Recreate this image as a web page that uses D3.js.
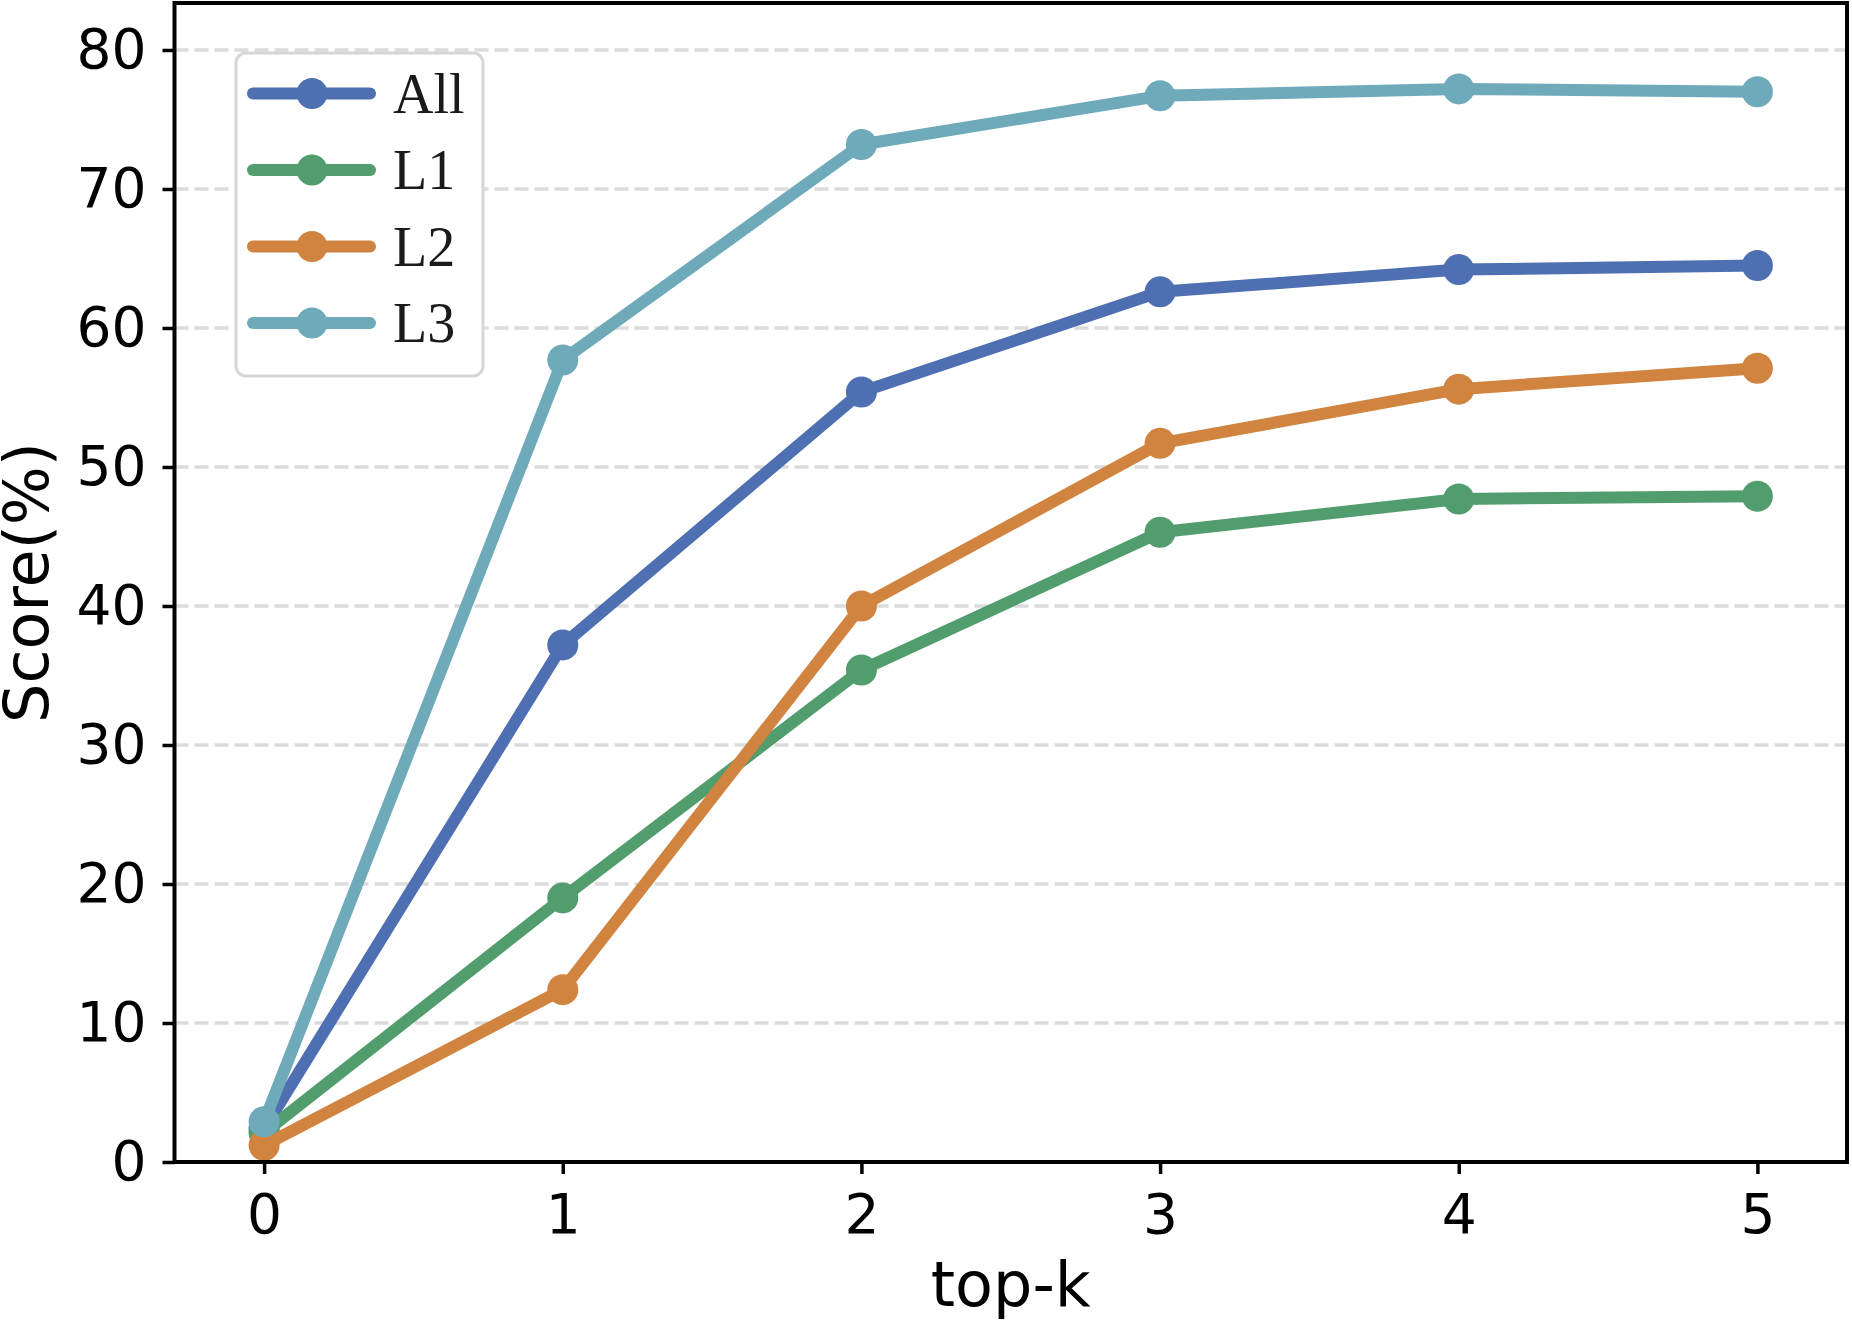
<!DOCTYPE html>
<html>
<head>
<meta charset="utf-8">
<script src="https://cdn.jsdelivr.net/npm/d3@7"></script>
<style>
	body { margin: 0; background: #fff; }
	.axis text { font-family: 'DejaVu Sans', sans-serif; fill: #000; }
</style>
</head>
<body>
<div id="chart"></div>
<script>
// data
var topK = [ 0, 1, 2, 3, 4, 5 ];
var seriesNames = [ 'All', 'L1', 'L2', 'L3' ];
var allScores = [ 2.4, 37.2, 55.4, 62.6, 64.2, 64.5 ];
var l1Scores = [ 2.1, 19.0, 35.4, 45.3, 47.7, 47.9 ];
var l2Scores = [ 1.2, 12.4, 40.0, 51.7, 55.6, 57.1 ];
var l3Scores = [ 2.9, 57.7, 73.2, 76.7, 77.2, 77.0 ];
var yTicks = [ 0, 10, 20, 30, 40, 50, 60, 70, 80 ];

var colors = [ '#4e6fb2', '#519d6d', '#d18340', '#6eaaba' ];
var allSeries = [ allScores, l1Scores, l2Scores, l3Scores ];

var W = 1852, H = 1321;
// plot box (window.top is reserved, so prefix these)
var plotL = 174.5, plotR = 1847, plotT = 3, plotB = 1162;
var lineW = 12, markerR = 15.5;

var svg = d3.select( '#chart' ).append( 'svg' )
	.attr( 'width', W )
	.attr( 'height', H );

var xScale = d3.scaleLinear()
	.domain( [ -0.3, 5.3 ] )
	.range( [ plotL, plotR ] );

var yScale = d3.scaleLinear()
	.domain( [ 0, 83.38 ] )
	.range( [ plotB, plotT ] );

// horizontal dashed grid
svg.append( 'g' )
	.selectAll( 'line' )
	.data( yTicks.filter( d => d > 0 ) )
	.enter()
	.append( 'line' )
	.attr( 'x1', plotL )
	.attr( 'x2', plotR )
	.attr( 'y1', d => yScale( d ) )
	.attr( 'y2', d => yScale( d ) )
	.attr( 'stroke', '#dcdcdc' )
	.attr( 'stroke-width', 3.5 )
	.attr( 'stroke-dasharray', '14,6' );

// lines + markers
var line = d3.line()
	.x( ( d, i ) => xScale( topK[ i ] ) )
	.y( d => yScale( d ) );

allSeries.forEach( function( vals, s ) {
	var g = svg.append( 'g' );
	g.append( 'path' )
		.datum( vals )
		.attr( 'd', line )
		.attr( 'fill', 'none' )
		.attr( 'stroke', colors[ s ] )
		.attr( 'stroke-width', lineW )
		.attr( 'stroke-linejoin', 'round' )
		.attr( 'stroke-linecap', 'round' );
	g.selectAll( 'circle' )
		.data( vals )
		.enter()
		.append( 'circle' )
		.attr( 'cx', ( d, i ) => xScale( topK[ i ] ) )
		.attr( 'cy', d => yScale( d ) )
		.attr( 'r', markerR )
		.attr( 'fill', colors[ s ] );
} );

// axes
var xAxis = d3.axisBottom( xScale )
	.tickValues( topK )
	.tickFormat( d3.format( 'd' ) )
	.tickSize( 12 )
	.tickPadding( 20 );

var yAxis = d3.axisLeft( yScale )
	.tickValues( yTicks )
	.tickSize( 12 )
	.tickPadding( 16 );

var gx = svg.append( 'g' )
	.attr( 'class', 'axis' )
	.attr( 'transform', 'translate(0,' + plotB + ')' )
	.call( xAxis );

var gy = svg.append( 'g' )
	.attr( 'class', 'axis' )
	.attr( 'transform', 'translate(' + plotL + ',0)' )
	.call( yAxis );

[ gx, gy ].forEach( function( g ) {
	g.select( '.domain' ).remove();
	g.selectAll( '.tick line' ).attr( 'stroke', '#000' ).attr( 'stroke-width', 3.5 );
	g.selectAll( '.tick text' ).attr( 'font-size', '55px' );
} );

// frame
svg.append( 'rect' )
	.attr( 'x', plotL )
	.attr( 'y', plotT )
	.attr( 'width', plotR - plotL )
	.attr( 'height', plotB - plotT )
	.attr( 'fill', 'none' )
	.attr( 'stroke', '#000' )
	.attr( 'stroke-width', 4 );

// axis labels
svg.append( 'text' )
	.attr( 'x', ( plotL + plotR ) / 2 )
	.attr( 'y', 1306 )
	.attr( 'text-anchor', 'middle' )
	.attr( 'font-family', 'DejaVu Sans, sans-serif' )
	.attr( 'font-size', '62px' )
	.text( 'top-k' );

svg.append( 'text' )
	.attr( 'transform', 'translate(48,' + ( ( plotT + plotB ) / 2 ) + ') rotate(-90)' )
	.attr( 'text-anchor', 'middle' )
	.attr( 'font-family', 'DejaVu Sans, sans-serif' )
	.attr( 'font-size', '62px' )
	.text( 'Score(%)' );

// legend
var legend = svg.append( 'g' );
legend.append( 'rect' )
	.attr( 'x', 236 )
	.attr( 'y', 53 )
	.attr( 'width', 247 )
	.attr( 'height', 323 )
	.attr( 'rx', 10 )
	.attr( 'fill', '#fff' )
	.attr( 'stroke', '#d6d6d6' )
	.attr( 'stroke-width', 3 );

var rowY = [ 93.5, 170, 246.5, 323 ];
seriesNames.forEach( function( name, i ) {
	legend.append( 'line' )
		.attr( 'x1', 253 )
		.attr( 'x2', 370 )
		.attr( 'y1', rowY[ i ] )
		.attr( 'y2', rowY[ i ] )
		.attr( 'stroke', colors[ i ] )
		.attr( 'stroke-width', lineW )
		.attr( 'stroke-linecap', 'round' );
	legend.append( 'circle' )
		.attr( 'cx', 312 )
		.attr( 'cy', rowY[ i ] )
		.attr( 'r', markerR )
		.attr( 'fill', colors[ i ] );
	legend.append( 'text' )
		.attr( 'x', 393 )
		.attr( 'y', rowY[ i ] + 19 )
		.attr( 'font-family', 'Liberation Serif, Times New Roman, serif' )
		.attr( 'font-size', '56px' )
		.attr( 'fill', '#1a1a1a' )
		.text( name );
} );
</script>
</body>
</html>
